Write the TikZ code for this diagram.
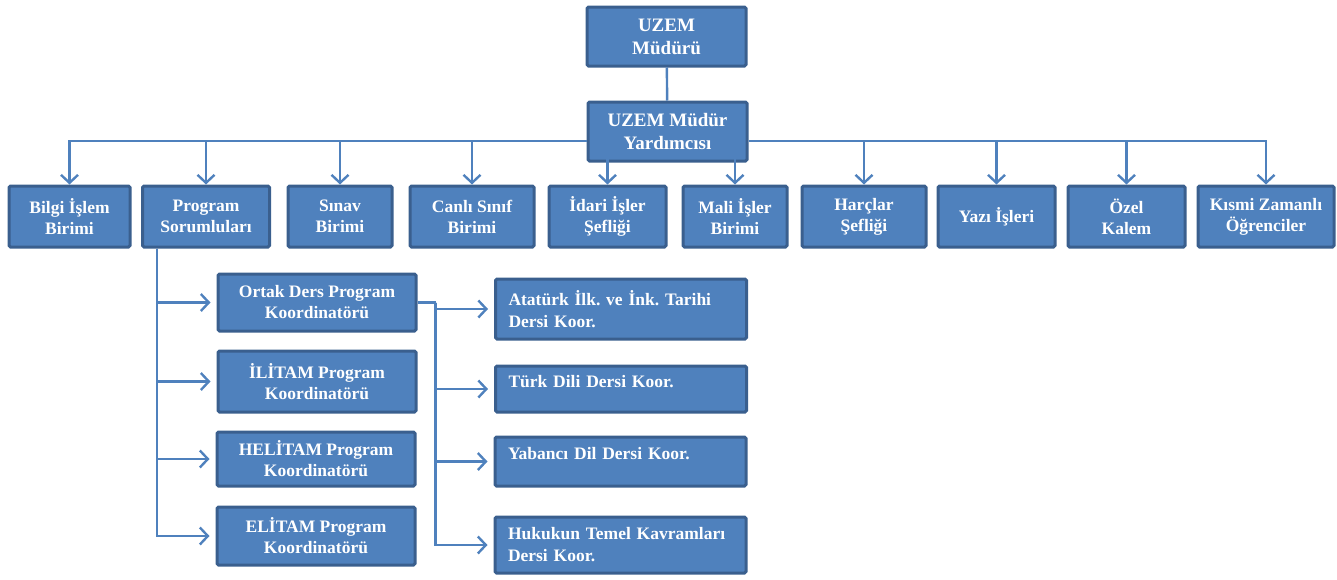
\documentclass[tikz,border=0pt]{standalone}
\usepackage{fontspec}
\setmainfont{Liberation Serif}
\usetikzlibrary{arrows.meta, calc}
\definecolor{unitfill}{HTML}{4F81BD}
\definecolor{unitdraw}{HTML}{3A5F8E}
\newcommand{\rowy}{216.5}
\newcommand{\headfont}{\fontsize{19}{23}\selectfont\bfseries}
\newcommand{\coursefont}{\fontsize{17.5}{22}\selectfont\bfseries\frenchspacing\spaceskip=2.5pt plus 1pt\relax}

\begin{document}
\begin{tikzpicture}[x=1pt, y=-1pt,
		unit/.style={draw=unitdraw, line width=3pt, rounded corners=1.5pt, fill=unitfill, text=white, font=\fontsize{17.5}{21}\selectfont\bfseries, align=center, inner sep=0pt, minimum height=61pt},
		coord/.style={unit, minimum width=198pt},
		course/.style={unit, minimum width=251pt, text width=225pt, align=left, font=\coursefont},
		link/.style={draw=unitfill, line width=2.4pt},
		arr/.style={link, -{Straight Barb[length=8pt, width=17pt]}}]
	\useasboundingbox (0,0) rectangle (1337,579);
		% director and deputy
		\node[unit, minimum width=159pt, minimum height=59pt, font=\headfont] (mudur) at (666.5, 36.5) {UZEM\\Müdürü};
		\node[unit, minimum width=159pt, minimum height=59pt, font=\headfont] (yardimci) at (667.5, 131.5) {UZEM Müdür\\Yardımcısı};
		% units
		\node[unit, minimum width=121pt] (bilgi)   at (  69.5, \rowy) {Bilgi İşlem\\Birimi};
		\node[unit, minimum width=127pt] (program) at ( 206,   \rowy) {Program\\Sorumluları};
		\node[unit, minimum width=104pt] (sinav)   at ( 340,   \rowy) {Sınav\\Birimi};
		\node[unit, minimum width=124pt] (canli)   at ( 472,   \rowy) {Canlı Sınıf\\Birimi};
		\node[unit, minimum width=117pt] (idari)   at ( 607.5, \rowy) {İdari İşler\\Şefliği};
		\node[unit, minimum width=104pt] (mali)    at ( 735,   \rowy) {Mali İşler\\Birimi};
		\node[unit, minimum width=124pt] (harc)    at ( 864,   \rowy) {Harçlar\\Şefliği};
		\node[unit, minimum width=117pt] (yazi)    at ( 996.5, \rowy) {Yazı İşleri};
		\node[unit, minimum width=117pt] (ozel)    at (1126.5, \rowy) {Özel\\Kalem};
		\node[unit, minimum width=136pt] (kismi)   at (1266,   \rowy) {Kısmi Zamanlı\\Öğrenciler};
		% program coordinators
		\node[coord, minimum height=57pt] (ortak)   at (317, 302.5) {Ortak Ders Program\\Koordinatörü};
		\node[coord, minimum height=61pt] (ilitam)  at (317, 381.5) {İLİTAM Program\\Koordinatörü};
		\node[coord, minimum height=54pt] (helitam) at (316, 459)   {HELİTAM Program\\Koordinatörü};
		\node[coord, minimum height=58pt] (elitam)  at (316, 536)   {ELİTAM Program\\Koordinatörü};
		% course coordinators
		\node[course, minimum height=60pt] (ataturk) at (621,   309)   {Atatürk İlk. ve İnk. Tarihi\\Dersi Koor.};
		\node[course, minimum height=46pt, text depth=16pt] (turk)    at (621,   389)   {Türk Dili Dersi Koor.};
		\node[course, minimum height=49pt, text depth=16pt] (yabanci) at (620.5, 461.5) {Yabancı Dil Dersi Koor.};
		\node[course, minimum height=56pt] (hukuk)   at (620.5, 545)   {Hukukun Temel Kavramları\\Dersi Koor.};
		% connectors
		\coordinate (bus) at (0, 141);
		\draw[link] (mudur) -- (yardimci);
		\draw[arr] (yardimci.west |- bus) -| (bilgi.north);
		\draw[arr] (yardimci.east |- bus) -| (kismi.north);
		\foreach \u in {program, sinav, canli, idari, mali, harc, yazi, ozel} {
			\draw[arr] (bus -| \u.north) -- (\u.north); % drops from the bus
		};
		\coordinate (pfoot) at ([xshift=16pt]program.south west);
		\foreach \c in {ortak, ilitam, helitam, elitam} {
			\draw[arr] (pfoot) |- ([xshift=-6pt]\c.west);
		};
		\coordinate (ojoin) at ([xshift=18pt]ortak.east);
		\draw[link] (ortak.east) -- (ojoin);
		\foreach \c in {ataturk, turk, yabanci, hukuk} {
			\draw[arr] (ojoin) |- ([xshift=-6pt]\c.west);
		};
	\end{tikzpicture}
\end{document}
